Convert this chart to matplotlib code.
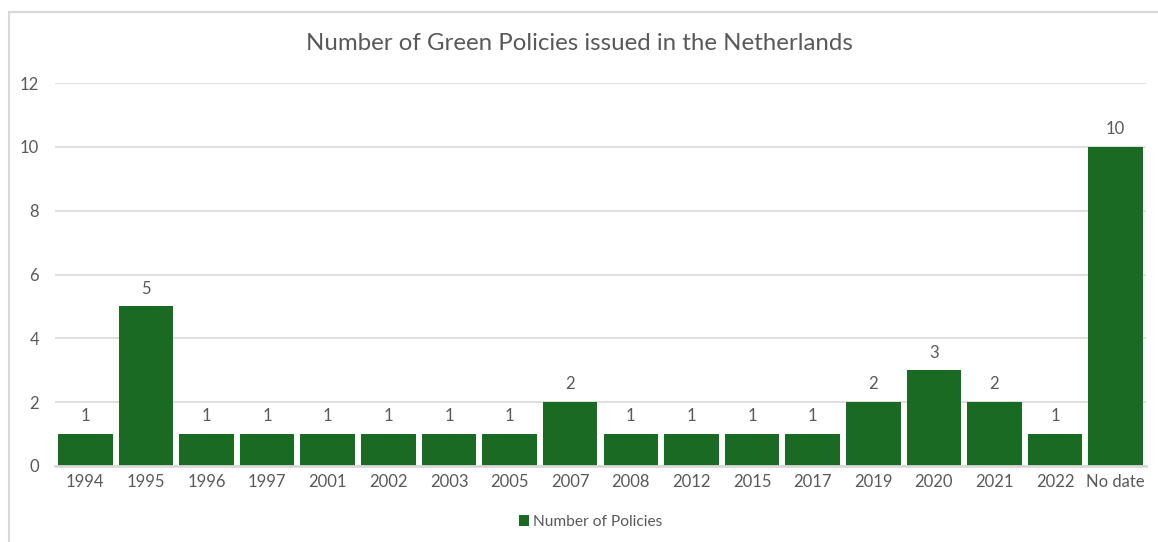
import matplotlib
matplotlib.use("Agg")
import matplotlib.pyplot as plt
from matplotlib.patches import Rectangle

plt.rcParams['font.family'] = ['Lato', 'DejaVu Sans']

categories = ["1994", "1995", "1996", "1997", "2001", "2002", "2003", "2005",
              "2007", "2008", "2012", "2015", "2017", "2019", "2020", "2021",
              "2022", "No date"]
policies = [1, 5, 1, 1, 1, 1, 1, 1, 2, 1, 1, 1, 1, 2, 3, 2, 1, 10]
y_ticks = [0, 2, 4, 6, 8, 10, 12]

bar_color = "#1b6a24"
text_color = "#595959"
grid_color = "#d9d9d9"

W, H = 1158, 542
fig = plt.figure(figsize=(W / 100, H / 100), dpi=100)

# outer chart frame (left and top edges visible)
fig.add_artist(Rectangle((9 / W, -0.1), 1.2, 1.1 - 12 / H, transform=fig.transFigure,
                         fill=False, edgecolor=grid_color, linewidth=1.5))

ax = fig.add_axes([55 / W, 1 - 466 / H, (1146 - 55) / W, (466 - 83) / H])
x = list(range(len(categories)))
bars = ax.bar(x, policies, width=0.9, color=bar_color, label="Number of Policies", zorder=3)
ax.set_xlim(-0.5, len(categories) - 0.5)
ax.set_ylim(0, 12)
ax.set_yticks(y_ticks)
ax.set_xticks(x)
ax.set_xticklabels(categories)
ax.tick_params(axis='both', length=0, colors=text_color, labelsize=12)
ax.tick_params(axis='y', pad=11.5)
ax.tick_params(axis='x', pad=6)
ax.grid(axis='y', color=grid_color, linewidth=1.2, zorder=0)
for side in ("top", "right", "left"):
    ax.spines[side].set_visible(False)
ax.spines["bottom"].set_color(grid_color)
ax.spines["bottom"].set_linewidth(2)
ax.spines["bottom"].set_zorder(4)

for xi, v in zip(x, policies):
    ax.annotate(str(v), (xi, v), xytext=(0, 7), textcoords="offset points",
                ha="center", va="bottom", color=text_color, fontsize=12)

fig.text(0.5, 1 - 44 / H, "Number of Green Policies issued in the Netherlands",
         ha="center", va="center", color=text_color, fontsize=17.3)

fig.legend(handles=[bars], labels=["Number of Policies"], loc="center",
           bbox_to_anchor=(0.51, 1 - 522 / H), frameon=False, fontsize=11.2,
           labelcolor=text_color, handlelength=0.65, handleheight=0.65,
           handletextpad=0.3)

fig.savefig("out.png", dpi=100, facecolor="white")
